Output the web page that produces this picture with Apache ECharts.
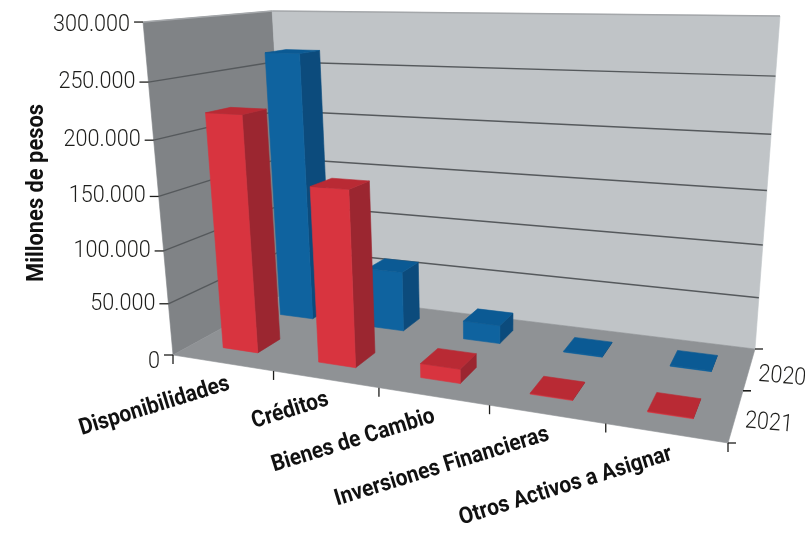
<!DOCTYPE html>
<html><head><meta charset="utf-8">
<style>html,body{margin:0;padding:0;background:#fff}#c{width:805px;height:535px}</style>
<script src="https://cdn.jsdelivr.net/npm/echarts@6/dist/echarts.min.js"></script>
</head><body><div id="c"></div>
<script>
const categories = ['Disponibilidades','Créditos','Bienes de Cambio','Inversiones Financieras','Otros Activos a Asignar'];
const depthLabels = ['2021','2020'];
const values2021 = [221000,162000,13000,800,800];
const values2020 = [265000,60000,18000,800,800];
const yTicks = [0,50000,100000,150000,200000,250000,300000];
const yTickLabels = ['0','50.000','100.000','150.000','200.000','250.000','300.000'];
const yTitle = 'Millones de pesos';

// view frame of the 3D box: floor corners, vanishing point of the verticals, height scale plane
const Q = {A:[173,355],B:[728,443],D:[755,349],C:[288,292]};
const VP=[490,3879], HP=[0.00867,0.841,32.9];
function quad(p0,p1,p2,p3){
  const dx1=p1[0]-p2[0],dx2=p3[0]-p2[0],sx=p0[0]-p1[0]+p2[0]-p3[0];
  const dy1=p1[1]-p2[1],dy2=p3[1]-p2[1],sy=p0[1]-p1[1]+p2[1]-p3[1];
  const det=dx1*dy2-dx2*dy1;
  const g=(sx*dy2-dx2*sy)/det,h=(dx1*sy-sx*dy1)/det;
  const a=p1[0]-p0[0]+g*p1[0],b=p3[0]-p0[0]+h*p3[0],d=p1[1]-p0[1]+g*p1[1],e=p3[1]-p0[1]+h*p3[1];
  return (u,w)=>{const z=g*u+h*w+1;return [(a*u+b*w+p0[0])/z,(d*u+e*w+p0[1])/z];};
}
const floorH=quad(Q.A,Q.B,Q.D,Q.C);
const fm=(floorH(0.5,0)[0]-Q.A[0])/(Q.B[0]-Q.A[0]);
const rhoM=(1-fm)/fm;
const RHO_TICK=1.13, RHO_BAR=1.20;
const warp=(u,rho)=>{if(u<=0||u>=1)return u;const o=u/(1-u)*rhoM/rho;return o/(1+o);};
const vr=1.10;
function proj(u,v,w,rho){
  const p=floorH(warp(u,rho||RHO_TICK),w),k=v/(v+(1-v)*vr);
  const h=(HP[0]*p[0]+HP[1]*p[1]+HP[2])*k;
  const L=(p[0]-VP[0])/(VP[1]-p[1]);
  return [p[0]+L*h,p[1]-h];
}
const gx=100,gy=100,gw=500,gh=300;
const norm=(api,c,val)=>{const p=api.coord([c,val]);return [(p[0]-gx)/gw,(gy+gh-p[1])/gh];};
const poly=(pts,fill,stroke)=>({type:'polygon',shape:{points:pts},style:{fill:fill,stroke:stroke||fill,lineWidth:0.6}});
const txt=(s,x,y,o)=>({type:'text',x:x,y:y,rotation:o.rot||0,scaleX:o.sx||1,silent:true,
  style:{text:s,fontFamily:o.ff||'Roboto',fontSize:o.fs,fontWeight:o.fw||'normal',fill:o.fill||'#1d1d1b',align:o.al||'right',verticalAlign:'middle'}});
const line=(a,b,c,w)=>({type:'line',shape:{x1:a[0],y1:a[1],x2:b[0],y2:b[1]},style:{stroke:c,lineWidth:w}});

const BARW=0.37, W0=0.16, W1=0.35;
function barSeries(name,vals,row,cols){
  return {type:'custom',name:name,coordinateSystem:'cartesian2d',xAxisIndex:0,yAxisIndex:0,clip:false,silent:true,
    data:vals.map((v,i)=>[i,v]),
    renderItem(params,api){
      const c=api.value(0),val=api.value(1);
      const bw=api.size([1,0])[0]/gw;
      const n=norm(api,c,val), uc=n[0], v=n[1];
      const u0=uc-bw*BARW/2,u1=uc+bw*BARW/2,w0=row*0.5+W0,w1=row*0.5+W1;
      const P=(a,b,d)=>proj(a,b,d,RHO_BAR);
      return {type:'group',children:[
        poly([P(u1,0,w0),P(u1,0,w1),P(u1,v,w1),P(u1,v,w0)],cols.side),
        poly([P(u0,0,w0),P(u1,0,w0),P(u1,v,w0),P(u0,v,w0)],cols.front),
        poly([P(u0,v,w0),P(u1,v,w0),P(u1,v,w1),P(u0,v,w1)],cols.top)
      ]};
    }};
}
const chart=echarts.init(document.getElementById('c'),null,{renderer:'canvas'});
chart.setOption({
  animation:false,backgroundColor:'#fff',
  grid:{left:gx,top:gy,width:gw,height:gh},
  xAxis:{type:'category',data:categories,show:false},
  yAxis:{type:'value',min:0,max:300000,interval:50000,show:false},
  series:[
    {type:'custom',coordinateSystem:'cartesian2d',silent:true,clip:false,data:[[0,0]],
     renderItem(){return {type:'group',children:[
       poly([proj(0,0,0),proj(0,0,1),proj(0,1,1),proj(0,1,0)],'#808386'),
       poly([proj(0,0,1),proj(1,0,1),proj(1,1,1),proj(0,1,1)],'#c0c4c7'),
       poly([proj(0,0,0),proj(1,0,0),proj(1,0,1),proj(0,0,1)],'#8f9295')
     ]};}},
    {type:'custom',coordinateSystem:'cartesian2d',silent:true,clip:false,data:yTicks.map((v,i)=>[0,v,i]),
     renderItem(params,api){
       const v=norm(api,0,api.value(1))[1],i=api.value(2);
       const a=proj(0,v,0),b=proj(0,v,1),c=proj(1,v,1),kids=[];
       const col=i===6?'#a4a7aa':'#55595c';
       if(i>0){kids.push(line(a,b,col,1.4),line(b,c,col,1.4));}
       kids.push(line([a[0]-9,a[1]],a,'#1d1d1b',1.3));
       kids.push(txt(yTickLabels[i],a[0]-13,a[1]+(i===0?7:i===6?3:0),{fs:24,sx:0.9,fw:300}));
       return {type:'group',children:kids};
     }},
    {type:'custom',coordinateSystem:'cartesian2d',silent:true,clip:false,data:categories.map((c,i)=>[i,i]),
     renderItem(params,api){
       const i=api.value(1),n=norm(api,i,0),bw=api.size([1,0])[0]/gw;
       const t=proj(n[0]+bw/2,0,0),m=proj(n[0],0,0,RHO_BAR),a=proj(n[0]-bw/2,0,0),kids=[];
       kids.push(line(t,[t[0],t[1]+9],'#1d1d1b',1.3));
       if(i===0)kids.push(line(a,[a[0],a[1]+9],'#1d1d1b',1.3));
       kids.push(txt(categories[i],m[0]+9,m[1]+21,{fs:23,sx:0.91,fw:700,rot:0.3,fill:'#111'}));
       return {type:'group',children:kids};
     }},
    {type:'custom',coordinateSystem:'cartesian2d',silent:true,clip:false,data:depthLabels.map((c,i)=>[0,i]),
     renderItem(params,api){
       const i=api.value(1),kids=[];
       const p=proj(1,0,i*0.5),q=proj(1,0,i*0.5+0.5),m=proj(1,0,i*0.5+0.25);
       kids.push(line(p,[p[0]+8,p[1]],'#1d1d1b',1.3),line(q,[q[0]+8,q[1]],'#1d1d1b',1.3));
       kids.push(txt(depthLabels[i],m[0]+9,m[1]+6,{fs:24,sx:0.9,fw:300,al:'left',rot:-0.09}));
       return {type:'group',children:kids};
     }},
    barSeries('2020',values2020,1,{front:'#0f639f',side:'#0c4b7c',top:'#0b5a94'}),
    barSeries('2021',values2021,0,{front:'#d8343f',side:'#9b2630',top:'#b92a34'}),
    {type:'custom',coordinateSystem:'cartesian2d',silent:true,clip:false,data:[[0,0]],
     renderItem(){return txt(yTitle,37,193,{fs:23,sx:0.95,fw:700,rot:Math.PI/2,al:'center',fill:'#111'});}}
  ]
});
</script></body></html>
